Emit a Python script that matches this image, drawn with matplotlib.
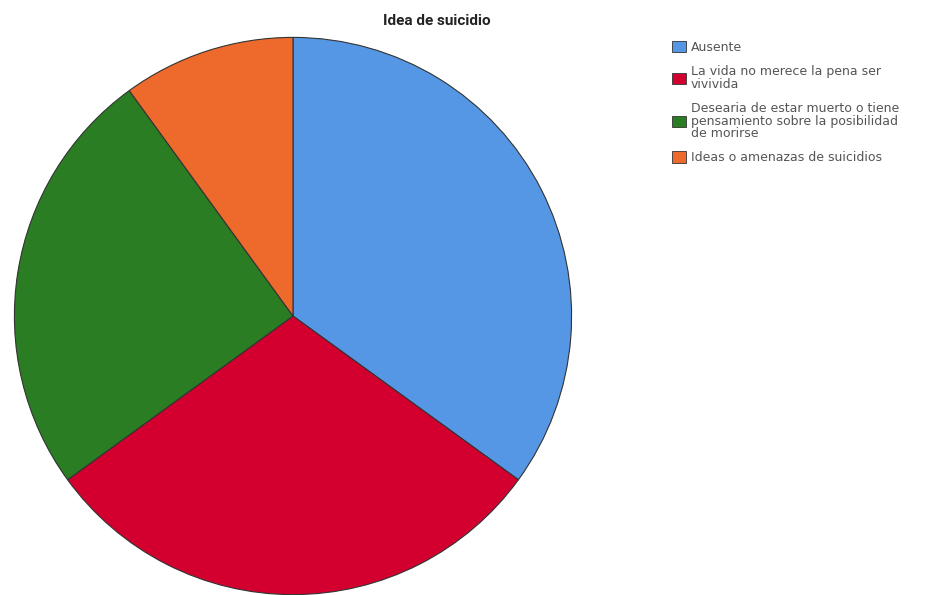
import matplotlib
matplotlib.use("Agg")
import matplotlib.pyplot as plt
from matplotlib.patches import Patch

categorias = [
    "Ausente",
    "La vida no merece la pena ser\nvivivida",
    "Desearia de estar muerto o tiene\npensamiento sobre la posibilidad\nde morirse",
    "Ideas o amenazas de suicidios",
]
porcentajes = [35, 30, 25, 10]
colores = ["#5597e4", "#d3002f", "#2a7d22", "#ee6a2c"]

W, H = 931, 595
fig = plt.figure(figsize=(W / 100, H / 100), dpi=100)

# pie axes: centre (293, 316) px, radius 280 px
cx, cy, r = 293, 316, 280
ax = fig.add_axes([(cx - r) / W, (H - cy - r) / H, 2 * r / W, 2 * r / H])
ax.pie(porcentajes, colors=colores, startangle=90, counterclock=False,
       wedgeprops=dict(edgecolor="#333333", linewidth=0.8))
ax.set_xlim(-1.005, 1.005)
ax.set_ylim(-1.005, 1.005)
ax.set_aspect("equal")
ax.axis("off")

fig.text(437 / W, 1 - 21 / H, "Idea de suicidio", ha="center", va="center",
         fontsize=11, fontweight="bold", family="Roboto", color="#222222")

handles = [Patch(facecolor=c, edgecolor="#333333", linewidth=0.6) for c in colores]
leg = fig.legend(handles, categorias, loc="upper left",
                 bbox_to_anchor=(672 / W, 1 - 41 / H), frameon=False,
                 prop=dict(family="DejaVu Sans", size=9),
                 handlelength=1.1, handleheight=1.0, handletextpad=0.4,
                 labelspacing=0.9, borderpad=0, borderaxespad=0)
for t in leg.get_texts():
    t.set_color("#555555")
    t.set_linespacing(0.95)

fig.savefig("out.png", dpi=100)
